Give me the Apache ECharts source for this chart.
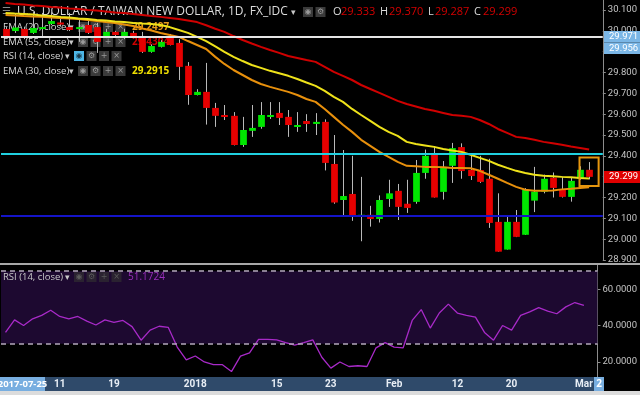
<!DOCTYPE html>
<html>
<head>
<meta charset="utf-8">
<script src="https://cdn.jsdelivr.net/npm/echarts@6/dist/echarts.min.js"></script>
<style>html,body{margin:0;padding:0;background:#000;}#c{width:640px;height:395px;}</style>
</head>
<body>
<div id="c"></div>
<script>
// ---- data ----
var dates = ['2017-12-01','2017-12-04','2017-12-05','2017-12-06','2017-12-07','2017-12-08',
'2017-12-11','2017-12-12','2017-12-13','2017-12-14','2017-12-15','2017-12-18','2017-12-19','2017-12-20','2017-12-21','2017-12-22',
'2017-12-25','2017-12-26','2017-12-27','2017-12-28','2017-12-29','2018-01-02','2018-01-03','2018-01-04','2018-01-05',
'2018-01-08','2018-01-09','2018-01-10','2018-01-11','2018-01-12','2018-01-15','2018-01-16','2018-01-17','2018-01-18','2018-01-19',
'2018-01-22','2018-01-23','2018-01-24','2018-01-25','2018-01-26','2018-01-29','2018-01-30','2018-01-31','2018-02-01','2018-02-02',
'2018-02-05','2018-02-06','2018-02-07','2018-02-08','2018-02-09','2018-02-12','2018-02-13','2018-02-14','2018-02-15','2018-02-16',
'2018-02-19','2018-02-20','2018-02-21','2018-02-22','2018-02-23','2018-02-26','2018-02-27','2018-02-28','2018-03-01','2018-03-02',
'2018-03-05'];
var opens = [30.009,29.999,30.009,29.990,30.014,30.033,30.040,30.018,30.014,30.028,30.018,29.971,29.995,29.971,29.990,29.971,29.899,29.923,29.966,29.942,
29.832,29.692,29.707,29.630,29.596,29.592,29.452,29.520,29.539,29.590,29.606,29.587,29.543,29.567,29.553,29.563,29.361,29.188,29.217,29.107,
29.117,29.097,29.193,29.232,29.170,29.179,29.318,29.410,29.227,29.352,29.442,29.332,29.332,29.290,29.083,28.950,29.083,29.021,29.185,29.228,
29.295,29.240,29.203,29.290,29.333];
var highs = [30.020,30.081,30.020,30.090,30.086,30.090,30.070,30.086,30.062,30.052,30.038,30.010,30.000,30.010,30.000,29.995,29.935,29.955,29.985,29.960,
29.850,29.720,29.846,29.654,29.644,29.610,29.587,29.644,29.658,29.658,29.658,29.620,29.610,29.600,29.605,29.575,29.500,29.428,29.400,29.299,
29.160,29.210,29.285,29.265,29.285,29.380,29.430,29.446,29.375,29.462,29.460,29.404,29.400,29.386,29.220,29.107,29.140,29.245,29.347,29.310,
29.320,29.300,29.295,29.350,29.370];
var lows = [29.965,29.990,29.960,29.985,29.971,30.028,30.020,29.999,29.947,29.985,29.894,29.965,29.970,29.960,29.965,29.894,29.895,29.920,29.930,29.764,
29.645,29.690,29.550,29.539,29.572,29.450,29.443,29.491,29.530,29.577,29.548,29.491,29.515,29.515,29.500,29.330,29.170,29.115,29.088,28.990,
29.060,29.080,29.155,29.092,29.126,29.170,29.290,29.200,29.190,29.270,29.290,29.284,29.270,29.054,28.940,28.950,29.010,29.020,29.130,29.220,
29.200,29.200,29.180,29.285,29.287];
var closes = [29.971,30.016,29.966,30.014,30.018,30.047,30.030,30.004,30.018,29.990,29.947,29.995,29.980,29.995,29.975,29.899,29.927,29.947,29.932,29.827,
29.692,29.707,29.630,29.592,29.587,29.452,29.524,29.534,29.596,29.596,29.582,29.548,29.548,29.553,29.563,29.366,29.176,29.207,29.107,29.117,
29.097,29.188,29.220,29.155,29.150,29.318,29.400,29.200,29.347,29.437,29.327,29.303,29.275,29.078,28.940,29.083,29.011,29.236,29.228,29.290,
29.246,29.203,29.280,29.333,29.299];
var ema20 = [30.076,30.074,30.071,30.069,30.067,30.064,30.062,30.059,30.057,30.052,30.047,30.042,30.038,30.030,30.023,30.011,30.002,29.990,29.980,29.971,
29.951,29.932,29.913,29.875,29.841,29.812,29.788,29.764,29.745,29.731,29.719,29.707,29.692,29.673,29.659,29.625,29.587,29.549,29.515,29.477,
29.448,29.419,29.395,29.371,29.352,29.350,29.347,29.347,29.345,29.342,29.342,29.340,29.328,29.309,29.290,29.270,29.251,29.237,29.232,29.232,
29.234,29.239,29.242,29.246,29.2497];
var ema30 = [30.086,30.083,30.081,30.078,30.074,30.071,30.067,30.064,30.059,30.057,30.052,30.050,30.045,30.042,30.038,30.035,30.033,30.028,30.018,30.004,
29.990,29.971,29.951,29.925,29.899,29.875,29.855,29.836,29.822,29.808,29.796,29.784,29.769,29.752,29.736,29.712,29.683,29.659,29.625,29.596,
29.568,29.539,29.515,29.496,29.467,29.457,29.450,29.443,29.433,29.426,29.419,29.405,29.390,29.376,29.357,29.342,29.328,29.318,29.309,29.304,
29.302,29.299,29.297,29.294,29.2915];
var ema55 = [30.134,30.129,30.126,30.122,30.119,30.114,30.112,30.107,30.105,30.100,30.098,30.093,30.088,30.086,30.081,30.076,30.071,30.067,30.062,30.057,
30.050,30.042,30.027,30.010,29.995,29.975,29.956,29.939,29.923,29.908,29.894,29.879,29.870,29.860,29.851,29.827,29.803,29.784,29.764,29.740,
29.721,29.702,29.683,29.664,29.649,29.637,29.625,29.616,29.606,29.596,29.592,29.587,29.572,29.553,29.529,29.510,29.491,29.486,29.477,29.467,
29.460,29.453,29.445,29.438,29.4304];
var rsi14 = [36.2,43.1,40.0,43.7,45.6,48.4,45.0,43.7,45.0,42.4,40.3,43.1,41.8,42.8,39.4,31.9,37.5,39.6,39.0,28.1,
21.0,23.2,19.9,18.4,18.4,14.6,23.1,24.9,32.4,32.4,32.1,30.6,29.2,30.6,32.1,22.5,16.5,19.9,17.4,17.8,
17.4,27.7,30.6,28.1,27.7,42.8,48.8,38.6,46.9,51.8,46.9,45.6,44.6,36.2,31.9,40.0,37.5,45.6,47.5,49.9,
48.0,46.5,50.3,52.7,51.1724];
var priceTicks = [28.9,29.0,29.1,29.2,29.3,29.4,29.5,29.6,29.7,29.8,29.9,30.0,30.1];
var rsiTicks = [20,40,60];
var dateTickLabels = {'2017-12-11':'11','2017-12-19':'19','2018-01-02':'2018','2018-01-15':'15','2018-01-23':'23',
  '2018-02-01':'Feb','2018-02-12':'12','2018-02-20':'20','2018-03-02':'Mar'};
var levelLines = [29.971, 29.413, 29.112];
var rsiBand = [30, 70];
var lastOHLC = {o:'29.333', h:'29.370', l:'29.287', c:'29.299'};
var legendValues = {ema20:'29.2497', ema55:'29.4304', ema30:'29.2915', rsi:'51.1724'};

// ---- chart ----
var candleData = opens.map(function(o,i){ return [i, o, closes[i], lows[i], highs[i]]; });

function renderCandle(params, api){
  var i = api.value(0), o = api.value(1), c = api.value(2), l = api.value(3), h = api.value(4);
  var pO = api.coord([i,o]), pC = api.coord([i,c]), pL = api.coord([i,l]), pH = api.coord([i,h]);
  var w = api.size([1,0])[0]*0.74;
  var top = Math.min(pO[1],pC[1]), bot = Math.max(pO[1],pC[1]);
  var bh = Math.max(bot-top, 2);
  var xc = Math.round(pO[0]) + 0.5;
  var up = c >= o;
  return {type:'group', children:[
    {type:'line', shape:{x1:xc,y1:pH[1],x2:xc,y2:pL[1]}, style:{stroke:'#b9b9b9', lineWidth:1}},
    {type:'rect', shape:{x:xc-w/2, y:top, width:w, height:bh}, style:{fill: up ? '#00e600' : '#e60000'}}
  ]};
}

var F = '"Open Sans", "Noto Sans", sans-serif';
var AF = 'Roboto, "Liberation Sans", Arial, sans-serif';
function T(x,y,s,color,size,weight,z,align){
  return {type:'text', x:x, y:y, z:z||0, silent:true,
    style:{text:s, fill:color, font:(weight||'normal')+' '+size+'px '+F, verticalAlign:'middle', align:align||'left'}};
}
function icon(x,y,glyph,bg,fg,z){
  return {type:'group', x:x, y:y-5, z:z||0, silent:true, children:[
    {type:'rect', z:z||0, shape:{x:0,y:0,width:10,height:10}, style:{fill:bg}},
    {type:'text', z:z||0, x:5, y:5, style:{text:glyph, fill:fg, font:'8px "DejaVu Sans"', align:'center', verticalAlign:'middle'}}
  ]};
}
function legendRow(y, label, value, valColor, iconX, hiEye, dim, z){
  var bg = dim ? '#2a2230' : '#3a3a3a', fg = dim ? '#5a5a5a' : '#9a9a9a';
  var els = [T(3,y,label,dim?'#c8c8c8':'#d8d8d8',9.5,'normal',z), T(iconX-9,y,'\u25BE','#c8c8c8',9,'normal',z)];
  els.push(icon(iconX,y,'\u25C9',hiEye?'#4db6e6':bg,hiEye?'#1a3a4a':fg,z));
  els.push(icon(iconX+12.5,y,'\u2699',bg,fg,z));
  els.push(icon(iconX+25,y,'+',bg,fg,z));
  els.push(icon(iconX+37.5,y,'\u00D7',bg,fg,z));
  if (value) els.push(T(132,y,value,valColor,10,'bold',z));
  return els;
}

var graphics = [];
graphics.push({type:'rect', z:1, shape:{x:0,y:377,width:604,height:14}, style:{fill:'#2f4a6a'}, silent:true});
graphics.push({type:'rect', z:1, shape:{x:0,y:391,width:640,height:4}, style:{fill:'#dcdcdc'}, silent:true});
graphics.push({type:'rect', z:50, shape:{x:0,y:263,width:640,height:2}, style:{fill:'#a8a8a8'}, silent:true});
// title row
graphics.push(T(2,11,'\u2630','#8a8a8a',10));
graphics.push(T(17,12,'U.S. DOLLAR / TAIWAN NEW DOLLAR, 1D, FX_IDC','#dcdcdc',12));
graphics.push(T(291,12,'\u25BE','#c8c8c8',9));
graphics.push(icon(303,12,'\u25C9','#3a3a3a','#9a9a9a'));
graphics.push(icon(315.5,12,'\u2699','#3a3a3a','#9a9a9a'));
graphics.push(T(333,12,'O','#dcdcdc',11), T(341,12,lastOHLC.o,'#d40000',11));
graphics.push(T(380,12,'H','#dcdcdc',11), T(389,12,lastOHLC.h,'#d40000',11));
graphics.push(T(428,12,'L','#dcdcdc',11), T(435,12,lastOHLC.l,'#d40000',11));
graphics.push(T(474,12,'C','#dcdcdc',11), T(483,12,lastOHLC.c,'#d40000',11));
graphics = graphics.concat(legendRow(27,'EMA (20, close)',legendValues.ema20,'#e89a1a',78));
graphics = graphics.concat(legendRow(42,'EMA (55, close)',legendValues.ema55,'#d00000',78));
graphics = graphics.concat(legendRow(56,'RSI (14, close)',null,null,74,true));
graphics = graphics.concat(legendRow(71,'EMA (30, close)',legendValues.ema30,'#f0e000',78));
graphics = graphics.concat(legendRow(277,'RSI (14, close)',null,null,74,false,true,20));
graphics.push(T(128,277,legendValues.rsi,'#9b2fbd',10,'normal',20));
// x axis highlighted boxes
graphics.push({type:'rect', z:60, shape:{x:0,y:377,width:45,height:14}, style:{fill:'#78aee0'}, silent:true});
graphics.push(T(22.5,384,'2017-07-25','#ffffff',9.5,'bold',61,'center'));
graphics.push({type:'rect', z:60, shape:{x:594,y:377,width:10,height:14}, style:{fill:'#78aee0'}, silent:true});
graphics.push(T(599,384,'2','#ffffff',10,'bold',61,'center'));

var option = {
  backgroundColor:'#000',
  animation:false,
  textStyle:{fontFamily:F},
  grid:[{left:1,right:36,top:0,height:260},{left:1,right:36,top:265,height:112}],
  xAxis:[
    {type:'category', gridIndex:0, data:dates, boundaryGap:true, axisLine:{show:false}, axisTick:{show:false}, axisLabel:{show:false}, splitLine:{show:false}},
    {type:'category', gridIndex:1, data:dates, boundaryGap:true, z:10, axisLine:{show:false}, axisTick:{show:false}, splitLine:{show:false},
     axisLabel:{show:true, margin:2, color:'#e8eef5', fontSize:10, fontWeight:'bold', fontFamily:'Roboto',
       interval:function(idx,val){ return dateTickLabels.hasOwnProperty(val); },
       formatter:function(val){ return dateTickLabels[val] || ''; }}}
  ],
  yAxis:[
    {type:'value', gridIndex:0, position:'right', min:28.9, max:30.148, splitLine:{show:false},
     axisLine:{show:true, lineStyle:{color:'#8c8c8c'}},
     axisTick:{show:true, length:3, customValues:priceTicks, lineStyle:{color:'#8c8c8c'}},
     axisLabel:{customValues:priceTicks, margin:5, color:'#c4c4c4', fontSize:9.5, fontFamily:AF,
       formatter:function(v){ return v.toFixed(3); }}},
    {type:'value', gridIndex:1, position:'right', min:11.6, max:73.4, splitLine:{show:false},
     axisLine:{show:true, lineStyle:{color:'#8c8c8c'}},
     axisTick:{show:true, length:3, customValues:rsiTicks, lineStyle:{color:'#8c8c8c'}},
     axisLabel:{customValues:rsiTicks, margin:5, color:'#c4c4c4', fontSize:9.5, fontFamily:AF,
       formatter:function(v){ return v.toFixed(4); }}}
  ],
  series:[
    {type:'line', name:'levels', xAxisIndex:0, yAxisIndex:0, data:[], z:2,
     markLine:{silent:true, symbol:'none', label:{show:false}, animation:false,
       data:[{yAxis:levelLines[0], lineStyle:{color:'#e4e4e4', width:2, type:'solid'}},
             {yAxis:levelLines[1], lineStyle:{color:'#20d0e0', width:2, type:'solid'}},
             {yAxis:levelLines[2], lineStyle:{color:'#1414c8', width:2, type:'solid'}}]}},
    {type:'custom', name:'USDTWD', xAxisIndex:0, yAxisIndex:0, data:candleData, z:3,
     encode:{x:0, y:[1,2,3,4]}, renderItem:renderCandle, clip:true},
    {type:'line', name:'EMA20', xAxisIndex:0, yAxisIndex:0, data:ema20, showSymbol:false, z:4,
     lineStyle:{color:'#e8900c', width:2}},
    {type:'line', name:'EMA30', xAxisIndex:0, yAxisIndex:0, data:ema30, showSymbol:false, z:4,
     lineStyle:{color:'#eee21a', width:2}},
    {type:'line', name:'EMA55', xAxisIndex:0, yAxisIndex:0, data:ema55, showSymbol:false, z:4,
     lineStyle:{color:'#d00000', width:2}},
    {type:'line', name:'RSI', xAxisIndex:1, yAxisIndex:1, data:rsi14, showSymbol:false, z:4,
     lineStyle:{color:'#a82ac8', width:1.3},
     markArea:{silent:true, itemStyle:{color:'#1d0930'}, data:[[{yAxis:rsiBand[0]},{yAxis:rsiBand[1]}]]},
     markLine:{silent:true, symbol:'none', label:{show:false},
       lineStyle:{color:'#b4a8bc', width:1.5, type:[5,4]},
       data:[{yAxis:rsiBand[0]},{yAxis:rsiBand[1]}]}}
  ],
  graphic:graphics
};

var chart = echarts.init(document.getElementById('c'), null, {renderer:'canvas'});
chart.setOption(option);

// value boxes and annotation placed through the library's scales
var yW = chart.convertToPixel({yAxisIndex:0}, levelLines[0]);
var yC = chart.convertToPixel({yAxisIndex:0}, closes[closes.length-1]);
var pA = chart.convertToPixel({xAxisIndex:0, yAxisIndex:0}, [63, 29.392]);
var pB = chart.convertToPixel({xAxisIndex:0, yAxisIndex:0}, [64, 29.255]);
var extra = [
  {type:'rect', id:'bw', z:100, silent:true, shape:{x:604,y:yW-6,width:36,height:11.5}, style:{fill:'#7ab6e6'}},
  {type:'rect', id:'bw2', z:100, silent:true, shape:{x:604,y:yW+5.5,width:36,height:11.5}, style:{fill:'#7ab6e6'}},
  {type:'text', id:'tw', z:101, silent:true, x:609, y:yW, style:{text:'29.971', fill:'#fff', font:'9.5px '+AF, verticalAlign:'middle'}},
  {type:'text', id:'tw2', z:101, silent:true, x:609, y:yW+11.3, style:{text:'29.956', fill:'#fff', font:'9.5px '+AF, verticalAlign:'middle'}},
  {type:'rect', id:'bc', z:100, silent:true, shape:{x:604,y:yC-6,width:36,height:12}, style:{fill:'#e00000'}},
  {type:'text', id:'tc', z:101, silent:true, x:609, y:yC, style:{text:lastOHLC.c, fill:'#fff', font:'9.5px '+AF, verticalAlign:'middle'}},
  {type:'rect', id:'box', z:100, silent:true, shape:{x:pA[0]-0.5, y:pA[1], width:(pB[0]-pA[0])+10, height:pB[1]-pA[1]},
   style:{fill:'none', stroke:'#e6960e', lineWidth:2}}
];
chart.setOption({graphic: graphics.concat(extra)});
</script>
</body>
</html>
